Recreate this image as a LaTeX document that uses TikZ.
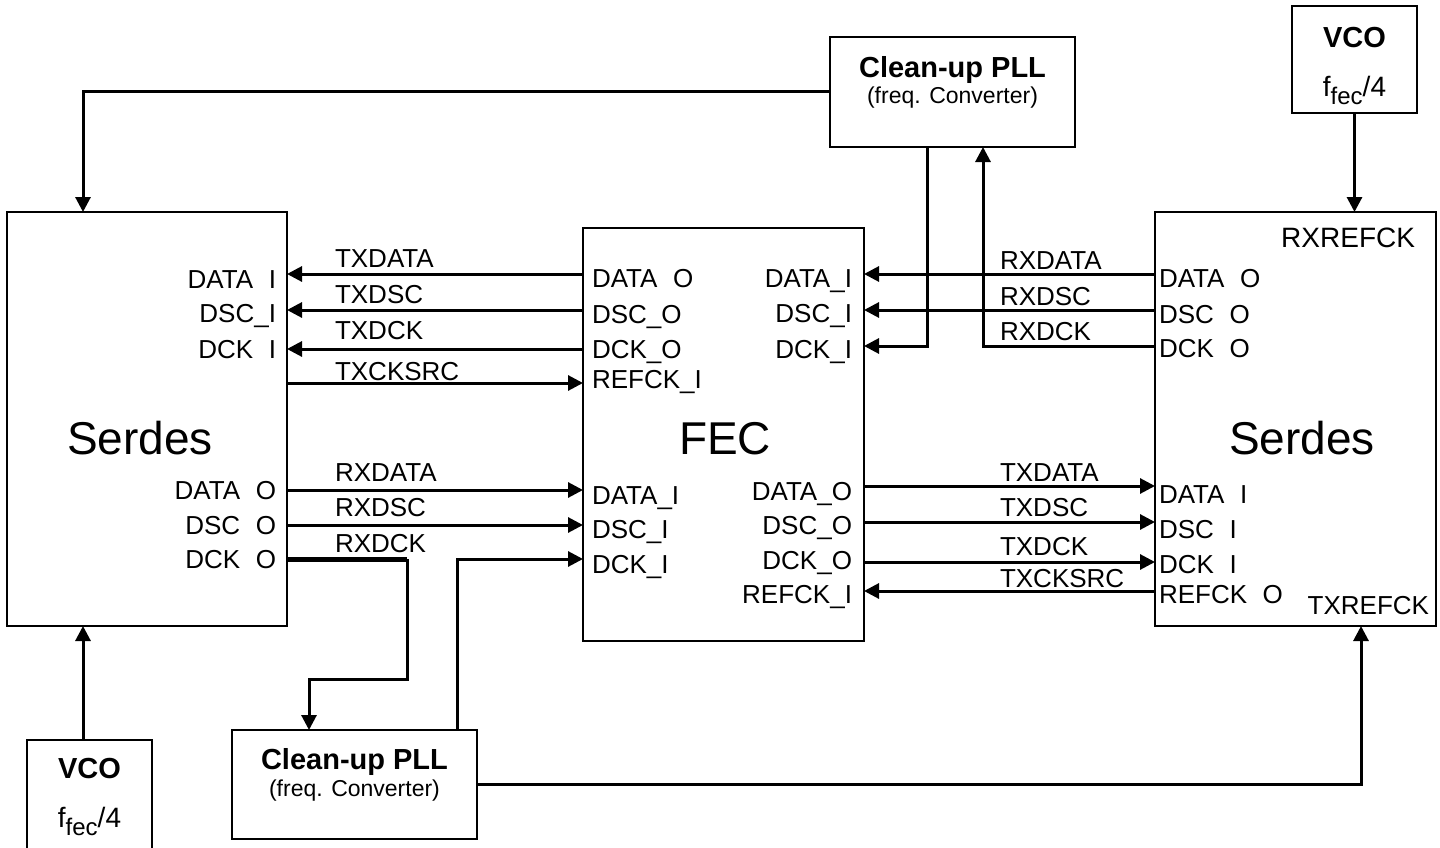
\documentclass[tikz,border=0pt]{standalone}
\usepackage{fontspec}
\setmainfont{Liberation Sans}
\usetikzlibrary{arrows.meta}
\newcommand{\pgap}{\hspace{0.6em}}
\newcommand{\ffec}{{\fontsize{28}{30}\selectfont f\raisebox{-8pt}{\fontsize{24}{26}\selectfont fec}/4}}
\tikzset{
  box/.style={draw, line width=2pt, inner sep=0pt, outer sep=0pt},
  wire/.style={line width=3pt, -{Triangle[length=15pt,width=15pt]}},
  thickwire/.style={line width=5pt},
  port/.style={inner sep=0pt, outer sep=0pt, font=\fontsize{26}{26}\selectfont, text height=18.6pt, text depth=0pt},
  portl/.style={port, anchor=east},
  portr/.style={port, anchor=west},
  sig/.style={port, anchor=west},
  big/.style={inner sep=0pt, font=\fontsize{46}{46}\selectfont, text height=33pt, text depth=0pt},
  boldt/.style={inner sep=0pt, font=\bfseries\fontsize{29}{29}\selectfont, text height=21pt, text depth=0pt},
  smallt/.style={inner sep=0pt, font=\fontsize{23}{23}\selectfont},
  freqt/.style={inner sep=0pt, anchor=base},
}
\begin{document}
\begin{tikzpicture}[x=1pt,y=-1pt]
\useasboundingbox (0,0) rectangle (1440,848);
\clip (0,0) rectangle (1440,848);

% boxes
\node[box, minimum width=280pt, minimum height=414pt] (serL) at (147,419) {};
\node[box, minimum width=281pt, minimum height=413pt] (fec) at (723.5,434.5) {};
\node[box, minimum width=281pt, minimum height=414pt] (serR) at (1295.5,419) {};
\node[box, minimum width=245pt, minimum height=110pt] (pllT) at (952.5,92) {};
\node[box, minimum width=125pt, minimum height=107pt] (vcoT) at (1354.5,59.5) {};
\node[box, minimum width=125pt, minimum height=120pt] (vcoB) at (89.5,800) {};
\node[box, minimum width=245pt, minimum height=109pt] (pllB) at (354.5,784.5) {};

% box titles
\node[big] (tSerL) at (140,438) {Serdes};
\node[big] (tFec) at (725,438) {FEC};
\node[big] (tSerR) at (1302,438) {Serdes};
\node[boldt] (tPllT1) at (952.5,67) {Clean-up PLL};
\node[smallt] (tPllT2) at (952.5,98) {(freq. Converter)};
\node[boldt] (tPllB1) at (354.5,759) {Clean-up PLL};
\node[smallt] (tPllB2) at (354.5,791) {(freq. Converter)};
\node[boldt] (tVcoT1) at (1354.5,37) {VCO};
\node[freqt] (tVcoT2) at (1354.5,97) {\ffec};
\node[boldt] (tVcoB1) at (89.5,768) {VCO};
\node[freqt] (tVcoB2) at (89.5,827) {\ffec};

% left Serdes ports
\node[portl] (sL1) at (276,279) {DATA\pgap I};
\node[portl] (sL2) at (276,313) {DSC\_I};
\node[portl] (sL3) at (276,349) {DCK\pgap I};
\node[portl] (sL4) at (276,490) {DATA\pgap O};
\node[portl] (sL5) at (276,525) {DSC\pgap O};
\node[portl] (sL6) at (276,559) {DCK\pgap O};

% FEC ports
\node[portr] (fL1) at (592,278) {DATA\pgap O};
\node[portr] (fL2) at (592,314) {DSC\_O};
\node[portr] (fL3) at (592,349) {DCK\_O};
\node[portr] (fL4) at (592,379) {REFCK\_I};
\node[portr] (fL5) at (592,495) {DATA\_I};
\node[portr] (fL6) at (592,529) {DSC\_I};
\node[portr] (fL7) at (592,564) {DCK\_I};
\node[portl] (fR1) at (852,278) {DATA\_I};
\node[portl] (fR2) at (852,313) {DSC\_I};
\node[portl] (fR3) at (852,349) {DCK\_I};
\node[portl] (fR4) at (852,491) {DATA\_O};
\node[portl] (fR5) at (852,525) {DSC\_O};
\node[portl] (fR6) at (852,560) {DCK\_O};
\node[portl] (fR7) at (852,594) {REFCK\_I};

% right Serdes ports
\node[portl, font=\fontsize{28}{28}\selectfont, text height=20pt] (sRref1) at (1415,237) {RXREFCK};
\node[portr] (sR1) at (1159,278) {DATA\pgap O};
\node[portr] (sR2) at (1159,314) {DSC\pgap O};
\node[portr] (sR3) at (1159,348) {DCK\pgap O};
\node[portr] (sR4) at (1159,494) {DATA\pgap I};
\node[portr] (sR5) at (1159,529) {DSC\pgap I};
\node[portr] (sR6) at (1159,564) {DCK\pgap I};
\node[portr] (sR7) at (1159,594) {REFCK\pgap O};
\node[portl] (sRref2) at (1429,605) {TXREFCK};

% wire levels
\coordinate (yA) at (0,274);
\coordinate (yB) at (0,310);
\coordinate (yC) at (0,349);
\coordinate (yD) at (0,383);
\coordinate (yE) at (0,490);
\coordinate (yF) at (0,525);
\coordinate (yG) at (0,559);
\coordinate (zA) at (0,274);
\coordinate (zB) at (0,310);
\coordinate (zC) at (0,346);
\coordinate (zE) at (0,486);
\coordinate (zF) at (0,522);
\coordinate (zG) at (0,562);
\coordinate (zH) at (0,591);

% left wires
\draw[wire] (fec.west |- yA) -- (serL.east |- yA);
\draw[wire] (fec.west |- yB) -- (serL.east |- yB);
\draw[wire] (fec.west |- yC) -- (serL.east |- yC);
\draw[wire] (serL.east |- yD) -- (fec.west |- yD);
\draw[wire] (serL.east |- yE) -- (fec.west |- yE);
\draw[wire] (serL.east |- yF) -- (fec.west |- yF);
\coordinate (rxk1) at (407,559);
\coordinate (rxk2) at (407,679);
\coordinate (pllBin) at ([xshift=-45.5pt]pllB.north);
\coordinate (pllBout) at ([xshift=102.5pt]pllB.north);
\draw[thickwire] (serL.east |- yG) -- (rxk1);
\draw[wire] (rxk1) -- (rxk2) -| (pllBin);
\draw[wire] (pllBout) |- (fec.west |- yG);

\node[sig] (lTXDATA) at (335,258) {TXDATA};
\node[sig] (lTXDSC) at (335,294) {TXDSC};
\node[sig] (lTXDCK) at (335,330) {TXDCK};
\node[sig] (lTXCKSRC) at (335,371) {TXCKSRC};
\node[sig] (lRXDATA) at (335,472) {RXDATA};
\node[sig] (lRXDSC) at (335,507) {RXDSC};
\node[sig] (lRXDCK) at (335,543) {RXDCK};

% right wires
\coordinate (pllTout) at ([xshift=-25.5pt]pllT.south);
\coordinate (pllTin) at ([xshift=30.5pt]pllT.south);
\draw[wire] (serR.west |- zA) -- (fec.east |- zA);
\draw[wire] (serR.west |- zB) -- (fec.east |- zB);
\draw[wire] (serR.west |- zC) -| (pllTin);
\draw[wire] (pllTout) |- (fec.east |- zC);
\draw[wire] (fec.east |- zE) -- (serR.west |- zE);
\draw[wire] (fec.east |- zF) -- (serR.west |- zF);
\draw[wire] (fec.east |- zG) -- (serR.west |- zG);
\draw[wire] (serR.west |- zH) -- (fec.east |- zH);

\node[sig] (rRXDATA) at (1000,260) {RXDATA};
\node[sig] (rRXDSC) at (1000,296) {RXDSC};
\node[sig] (rRXDCK) at (1000,331) {RXDCK};
\node[sig] (rTXDATA) at (1000,472) {TXDATA};
\node[sig] (rTXDSC) at (1000,507) {TXDSC};
\node[sig] (rTXDCK) at (1000,546) {TXDCK};
\node[sig] (rTXCKSRC) at (1000,578) {TXCKSRC};

% clock connections
\coordinate (serLin) at ([xshift=-64pt]serL.north);
\draw[wire] (pllT.west) -| (serLin);
\draw[wire] (vcoT.south) -- (serR.north -| vcoT.south);
\coordinate (vcoBout) at ([xshift=-6.5pt]vcoB.north);
\draw[wire] (vcoBout) -- (serL.south -| vcoBout);
\coordinate (txref) at ([xshift=65.5pt]serR.south);
\draw[wire] (pllB.east) -| (txref);
\end{tikzpicture}
\end{document}
